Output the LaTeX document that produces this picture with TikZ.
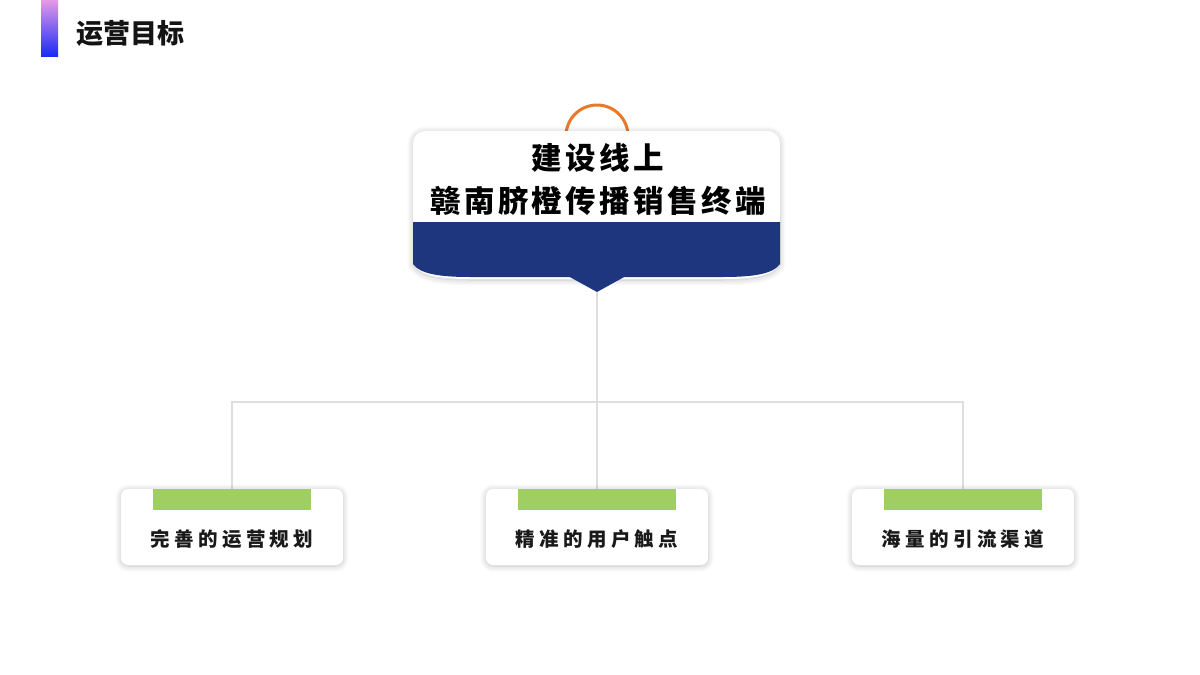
\documentclass[tikz,border=0pt]{standalone}
\usepackage{fontspec}
\newfontfamily\cjk{Noto Sans CJK SC}
\newfontfamily\cjkhead{Noto Sans CJK SC}[LetterSpace=11]
\newfontfamily\cjkwide{Noto Sans CJK SC}[LetterSpace=22]
\usetikzlibrary{shadows.blur,backgrounds}

\definecolor{navy}{HTML}{1E367E}
\definecolor{leafgreen}{HTML}{9FCF62}
\definecolor{ringorange}{HTML}{E8782A}
\definecolor{linkgray}{HTML}{DEDEDE}
\definecolor{barpink}{HTML}{E59AE6}
\definecolor{barblue}{HTML}{1A2BF6}

\tikzset{
    softshadow/.style={blur shadow={shadow xshift=0pt, shadow yshift=-1pt, shadow blur radius=6pt,
        shadow blur steps=10, shadow opacity=24}},
    leaf/.style={fill=white, rounded corners=7pt, minimum width=222pt, minimum height=76pt, softshadow},
    leaftext/.style={font=\cjkwide\bfseries\fontsize{19.5}{19.5}\selectfont, text=black!90},
    link/.style={draw=linkgray, line width=1.6pt},
}

\begin{document}
\begin{tikzpicture}[x=1pt, y=-1pt]
        \useasboundingbox (0,0) rectangle (1200,675);

        % titel
        \shade[top color=barpink, bottom color=barblue] (41,0) rectangle (58,56); %balken
        \node[anchor=west, font=\cjk\bfseries\fontsize{27}{27}\selectfont, text=black!92] (title) at (73,33) {运营目标};

        % ziel box
        \draw[ringorange, line width=3pt, fill=white] (597,136) circle (31); %ring
        \fill[white, softshadow] (413,143) -- (413,264) .. controls (420,276) and (440,279) .. (470,279)
            -- (723,279) .. controls (753,279) and (773,276) .. (780,264) -- (780,143)
            arc[start angle=0, end angle=-90, radius=12] -- (425,131)
            arc[start angle=-90, end angle=-180, radius=12] -- cycle; %umriss
        \fill[navy] (413,222) -- (413,264) .. controls (420,274) and (440,277) .. (470,277)
            -- (723,277) .. controls (753,277) and (773,274) .. (780,264) -- (780,222) -- cycle; %unten
        \fill[navy] (568,276) -- (597,292) -- (626,276) -- cycle; %spitze
        \coordinate (tip) at (597,292);
        \node[font=\cjkhead\bfseries\fontsize{30.5}{43}\selectfont, align=center, text=black] (goal) at (598,179)
            {建设线上\\赣南脐橙传播销售终端};

        % untere boxen
        \node[leaf] (plan) at (232,527) {};
        \node[leaf] (touch) at (597,527) {};
        \node[leaf] (flow) at (963,527) {};
        \foreach \b in {plan,touch,flow}
            \fill[leafgreen] ([xshift=-79pt]\b.north) rectangle ([xshift=79pt,yshift=-21pt]\b.north);
        \node[leaftext] (plantext) at ([yshift=-12pt]plan.center) {完善的运营规划};
        \node[leaftext] (touchtext) at ([yshift=-12pt]touch.center) {精准的用户触点};
        \node[leaftext] (flowtext) at ([yshift=-12pt]flow.center) {海量的引流渠道};

        % verbindungen
        \coordinate (hub) at (597,402);
        \begin{scope}[on background layer]
            \draw[link] (tip) -- (touch.north);
            \draw[link] (plan.north) |- (hub) -| (flow.north);
        \end{scope}
    \end{tikzpicture}
\end{document}
